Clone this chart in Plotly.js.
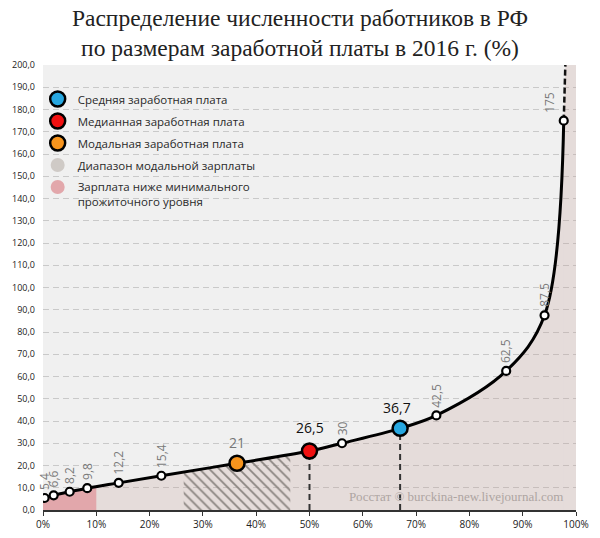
<!DOCTYPE html>
<html>
<head>
<meta charset="utf-8">
<script src="https://cdn.plot.ly/plotly-3.0.1.min.js"></script>
<style>html,body{margin:0;padding:0;background:#fff;}#chart{width:600px;height:538px;}</style>
</head>
<body>
<div id="chart"></div>
<script>
// Share of workers (x, cumulative %) vs wage level (y, thousand rub.)
var shareX = [0.3, 2.0, 5.0, 8.3, 14.2, 22.2, 36.4, 50, 56.1, 67.0, 73.8, 86.9, 94.1, 97.7];
var wageY  = [5.4, 6.6, 8.2, 9.8, 12.2, 15.4, 21, 26.5, 30, 36.7, 42.5, 62.5, 87.5, 175];
var pointKind = ['n','n','n','n','n','n','mode','median','n','mean','n','n','n','n'];

// continuation of the curve above the last point
var extX = [98.0, 100];
var extY = [200, 200];

// modal wage range (hatched)
var modalX = [26.4, 36.4, 46.4];
var modalY = [17.0, 21, 25.0];

// below subsistence minimum (pink)
var minWageX = [0, 0.3, 2.0, 5.0, 8.3, 10];
var minWageY = [5.2, 5.4, 6.6, 8.2, 9.8, 10.4];

var xTicks = [0,10,20,30,40,50,60,70,80,90,100];
var yTicks = [0,10,20,30,40,50,60,70,80,90,100,110,120,130,140,150,160,170,180,190,200];

var names = {
  mean: 'Средняя заработная плата',
  median: 'Медианная заработная плата',
  mode: 'Модальная заработная плата',
  hatch: 'Диапазон модальной зарплаты',
  pink: 'Зарплата ниже минимального<br>прожиточного уровня'
};

function fmt(v){ return String(v).replace('.', ','); }
function idx(k){ return pointKind.indexOf(k); }

var beige = 'rgba(196,160,152,0.25)';
var traces = [];

// beige area under curve
traces.push({x: shareX, y: wageY, mode: 'lines', line: {width: 0, shape: 'spline'},
  fill: 'tozeroy', fillcolor: beige, hoverinfo: 'skip', showlegend: false});
traces.push({x: [shareX[shareX.length-1]].concat(extX), y: [wageY[wageY.length-1]].concat(extY),
  mode: 'lines', line: {width: 0}, fill: 'tozeroy', fillcolor: beige, hoverinfo: 'skip', showlegend: false});

// pink
traces.push({x: minWageX, y: minWageY, mode: 'lines', line: {width: 0, shape: 'spline'},
  fill: 'tozeroy', fillcolor: '#e2a7ab', hoverinfo: 'skip', showlegend: false});

// hatch
traces.push({x: modalX, y: modalY, mode: 'lines', line: {width: 0, shape: 'spline'},
  fill: 'tozeroy', fillcolor: 'rgba(0,0,0,0)',
  fillpattern: {shape: '\\', fgcolor: '#8a8480', bgcolor: 'rgba(0,0,0,0)', size: 7, solidity: 0.25},
  hoverinfo: 'skip', showlegend: false});

// vertical dashed lines for median and mean
['median','mean'].forEach(function(k){
  var i = idx(k);
  traces.push({x: [shareX[i], shareX[i]], y: [0, wageY[i]], mode: 'lines',
    line: {color: '#333', width: 2, dash: '6px,4px'}, hoverinfo: 'skip', showlegend: false});
});

// dashed continuation
traces.push({x: [shareX[shareX.length-1], extX[0]], y: [wageY[wageY.length-1], extY[0]], mode: 'lines',
  line: {color: '#111', width: 2.5, dash: '6px,3px'}, hoverinfo: 'skip', showlegend: false});

// main curve
traces.push({x: shareX, y: wageY, mode: 'lines', line: {color: '#000', width: 3, shape: 'spline'},
  hoverinfo: 'skip', showlegend: false});

// small points
var sx = [], sy = [];
shareX.forEach(function(v,i){ if (pointKind[i] === 'n') { sx.push(v); sy.push(wageY[i]); } });
traces.push({x: sx, y: sy, mode: 'markers', marker: {size: 8, color: '#fff', line: {color: '#000', width: 2.2}},
  hoverinfo: 'skip', showlegend: false});

// big points (legend entries)
var colors = {mean: '#27a7e0', median: '#f01010', mode: '#f7941d'};
['mean','median','mode'].forEach(function(k){
  var i = idx(k);
  traces.push({x: [shareX[i]], y: [wageY[i]], mode: 'markers', name: names[k], legendgroup: k,
    marker: {size: 15, color: colors[k], line: {color: '#000', width: 2.5}}, hoverinfo: 'skip'});
});
// legend-only style entries
traces.push({x: [null], y: [null], mode: 'markers', name: names.hatch, legendgroup: 'hatch',
  marker: {size: 14, color: '#cfcac6', line: {width: 0}}});
traces.push({x: [null], y: [null], mode: 'markers', name: names.pink, legendgroup: 'pink',
  marker: {size: 14, color: '#e2a7ab', line: {width: 0}}});

// annotations
var ann = [];
shareX.forEach(function(v,i){
  var k = pointKind[i];
  if (k === 'n') {
    ann.push({x: v, y: wageY[i], text: fmt(wageY[i]), textangle: -90, showarrow: false,
      xanchor: 'center', yanchor: 'bottom', yshift: 6, xshift: (i === shareX.length-1 ? -15 : 0),
      font: {family: 'Open Sans, sans-serif', size: 12, color: '#7a7a7a'}});
  } else {
    var big = (k !== 'mode');
    ann.push({x: v, y: wageY[i], text: fmt(wageY[i]), showarrow: false,
      xanchor: 'center', yanchor: 'bottom', yshift: (k === 'median' ? 12 : 9), xshift: (k==='mean' ? -3 : 0),
      font: {family: 'Open Sans, sans-serif', size: 14, color: big ? '#111' : '#777'}});
  }
});
ann.push({xref: 'paper', yref: 'paper', x: 0.979, y: 0.031, xanchor: 'right', yanchor: 'middle',
  text: 'Росстат © burckina-new.livejournal.com', showarrow: false,
  font: {family: 'Liberation Serif, serif', size: 13, color: '#aea5a2'}});

var layout = {
  width: 600, height: 538,
  margin: {l: 43, r: 24, t: 65, b: 28},
  paper_bgcolor: '#fff', plot_bgcolor: '#f0f0f0',
  title: {text: 'Распределение численности работников в РФ<br>по размерам заработной платы в 2016 г. (%)',
    font: {family: 'Liberation Serif, serif', size: 23.5, color: '#222'},
    x: 0.5, xanchor: 'center', yref: 'container', y: 0.952, yanchor: 'top'},
  xaxis: {range: [0, 100], tickvals: xTicks, ticktext: xTicks.map(function(t){return t + '%';}),
    showgrid: false, zeroline: false, showline: true, linecolor: '#333', linewidth: 1.5,
    ticks: 'outside', ticklen: 4, tickcolor: '#333',
    tickfont: {family: 'Open Sans, sans-serif', size: 10, color: '#222'}, fixedrange: true},
  yaxis: {range: [0, 200], tickvals: yTicks, ticktext: yTicks.map(function(t){return t + ',0';}),
    showgrid: true, gridcolor: '#c9c9c9', griddash: '6px,4px', gridwidth: 1,
    zeroline: false, showline: false, ticks: '', ticklabelstandoff: 7,
    tickfont: {family: 'Open Sans, sans-serif', size: 9, color: '#222'}, fixedrange: true},
  legend: {x: -0.01, xanchor: 'left', y: 0.955, yanchor: 'top', bgcolor: 'rgba(0,0,0,0)',
    traceorder: 'grouped', tracegroupgap: 3, valign: 'top',
    font: {family: 'Open Sans, sans-serif', size: 11.5, color: '#2a2a2a'}},
  annotations: ann,
  showlegend: true
};

Plotly.newPlot('chart', traces, layout, {displayModeBar: false, staticPlot: true});
</script>
</body>
</html>
